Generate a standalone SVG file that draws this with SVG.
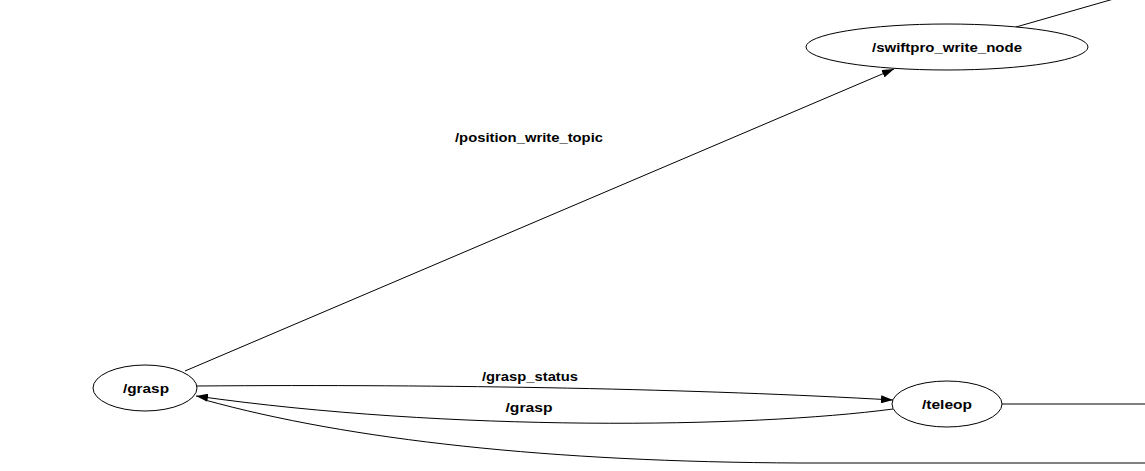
<svg xmlns="http://www.w3.org/2000/svg" width="1145" height="471" viewBox="0 0 1145 471">
  <style>
    .node ellipse { fill: #ffffff; stroke: #000000; stroke-width: 1; }
    .lbl { font-family: "Liberation Sans", Arial, sans-serif; font-weight: bold; font-size: 13px; fill: #000000; text-anchor: middle; }
    .edge { fill: none; stroke: #000000; stroke-width: 1; }
  </style>
  <defs>
    <marker id="arrow" viewBox="0 0 12 8" refX="12" refY="4" markerWidth="12" markerHeight="8" markerUnits="userSpaceOnUse" orient="auto">
      <path d="M0,0 L12,4 L0,8 Z" fill="#000000"/>
    </marker>
  </defs>
  <rect x="0" y="0" width="1145" height="471" fill="#ffffff"/>
  <g id="connectors">
    <path class="edge" d="M1016,27 L1145,-10"/>
    <path class="edge" d="M185,371 L894,69" marker-end="url(#arrow)"/>
    <path class="edge" d="M197,386 C450,384 700,389 893,400" marker-end="url(#arrow)"/>
    <path class="edge" d="M893,409 C750,428 450,432 196,396" marker-end="url(#arrow)"/>
    <path class="edge" d="M1145,463 L800,463 C550,462 350,440 205,400"/>
    <path class="edge" d="M1002,404 L1145,404"/>
    <text class="lbl" x="529" y="142" textLength="148" lengthAdjust="spacingAndGlyphs">/position_write_topic</text>
    <text class="lbl" x="530" y="381" textLength="96" lengthAdjust="spacingAndGlyphs">/grasp_status</text>
    <text class="lbl" x="529" y="412" textLength="47" lengthAdjust="spacingAndGlyphs">/grasp</text>
  </g>
  <g id="node-swiftpro_write_node" class="node">
    <ellipse cx="947" cy="47" rx="141" ry="23"/>
    <text class="lbl" x="947" y="52" textLength="150" lengthAdjust="spacingAndGlyphs">/swiftpro_write_node</text>
  </g>
  <g id="node-grasp" class="node">
    <ellipse cx="145" cy="388" rx="52" ry="23"/>
    <text class="lbl" x="146" y="393" textLength="46" lengthAdjust="spacingAndGlyphs">/grasp</text>
  </g>
  <g id="node-teleop" class="node">
    <ellipse cx="947" cy="404" rx="55" ry="23"/>
    <text class="lbl" x="947" y="409" textLength="50" lengthAdjust="spacingAndGlyphs">/teleop</text>
  </g>
</svg>
